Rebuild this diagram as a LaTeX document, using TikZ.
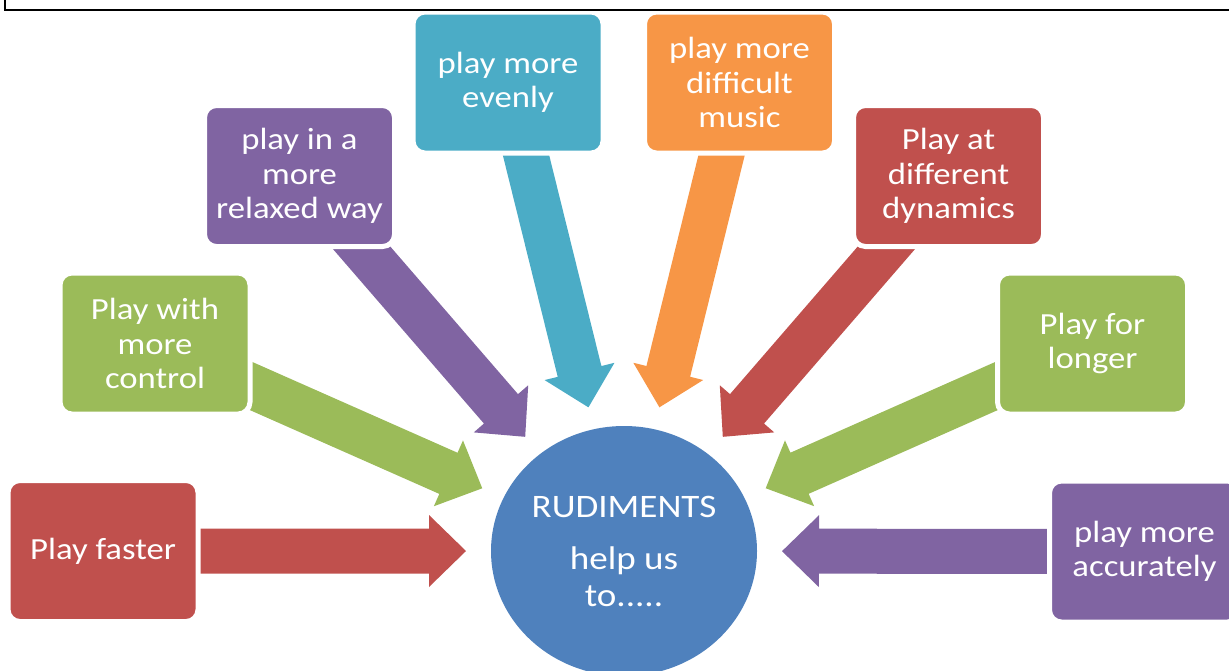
\documentclass[tikz,border=0pt]{standalone}
\usepackage{fontspec}
\setmainfont{Carlito}[FakeStretch=1.13]
\usetikzlibrary{calc,shapes.geometric}
\pgfdeclarelayer{bg}
\pgfsetlayers{bg,main}
\definecolor{cred}{HTML}{C0504D}
\definecolor{cgreen}{HTML}{9BBB59}
\definecolor{cpurple}{HTML}{8064A2}
\definecolor{cteal}{HTML}{4BACC6}
\definecolor{corange}{HTML}{F79646}
\definecolor{cblue}{HTML}{4F81BD}
\tikzset{
  box/.style={draw=white, line width=5pt, rounded corners=12pt,
    minimum width=190pt, minimum height=141pt, inner sep=0pt,
    align=center, text=white, font=\fontsize{30.7}{34.5}\selectfont},
  hub/.style={ellipse, fill=cblue, minimum width=266pt, minimum height=250pt,
    inner sep=0pt, align=center, text=white, font=\fontsize{32.8}{37}\selectfont},
  frameline/.style={line width=2pt, black}
}
% #1 box node, #2 colour, #3 tip radius, #4 head-base radius (from hub centre)
\newcommand\radarrow[4]{%
  \fill[#2] ($(#1)!22.5pt!90:(c)$)
    -- ($(c)!#4!(#1)!22.5pt!90:(c)$)
    -- ($(c)!#4!(#1)!36pt!90:(c)$)
    -- ($(c)!#3!(#1)$)
    -- ($(c)!#4!(#1)!36pt!-90:(c)$)
    -- ($(c)!#4!(#1)!22.5pt!-90:(c)$)
    -- ($(#1)!22.5pt!-90:(c)$) -- cycle;}
\begin{document}
\begin{tikzpicture}[x=1pt,y=-1pt]
\useasboundingbox (0,0) rectangle (1229,670);
\node[hub] (c) at (624,551) {RUDIMENTS\\[15pt]help us\\to.....};
\node[box,fill=cred] (fast) at (103,551) {Play faster};
\node[box,fill=cgreen] (ctrl) at (155,343.5) {Play with\\more\\control};
\node[box,fill=cpurple] (relax) at (299.5,176) {play in a\\more\\relaxed way};
\node[box,fill=cteal] (even) at (508,82.5) {play more\\evenly};
\node[box,fill=corange] (diff) at (739.5,82.5) {play more\\difficult\\music};
\node[box,fill=cred] (dyn) at (948.5,176) {Play at\\different\\dynamics};
\node[box,fill=cgreen] (long) at (1092.5,343.5) {Play for\\longer};
\node[box,fill=cpurple] (acc) at (1144.5,551.5) {play more\\accurately};
\begin{pgfonlayer}{bg}
  \radarrow{fast}{cred}{158pt}{195pt}
  \radarrow{ctrl}{cgreen}{155pt}{192pt}
  \radarrow{relax}{cpurple}{151pt}{188pt}
  \radarrow{even}{cteal}{148pt}{185pt}
  \radarrow{diff}{corange}{148pt}{185pt}
  \radarrow{dyn}{cred}{151pt}{188pt}
  \radarrow{long}{cgreen}{155pt}{192pt}
  \radarrow{acc}{cpurple}{158pt}{195pt}
\end{pgfonlayer}
\draw[frameline] (4.9,-2) -- (4.9,10) -- (1232,10);
\end{tikzpicture}
\end{document}
